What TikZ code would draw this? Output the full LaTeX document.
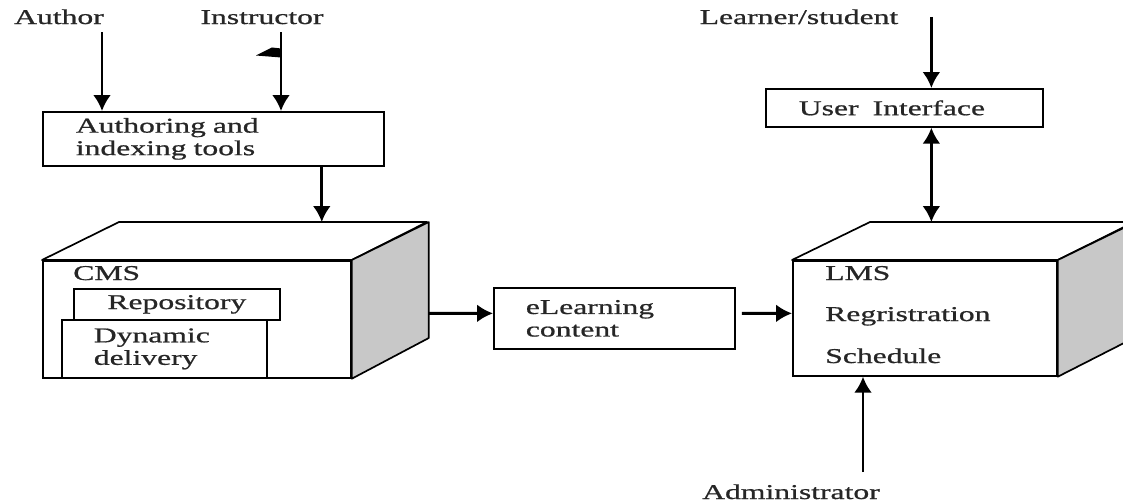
\documentclass[tikz,border=0pt]{standalone}
\usepackage{fontspec}
\setmainfont{Liberation Serif}[FakeStretch=1.5, FakeBold=0.8]
\usetikzlibrary{positioning, arrows.meta, calc}
\tikzstyle{plainbox} =[draw, line width=1.2pt, align=left, inner ysep=0pt, anchor=north west]
\tikzstyle{flow} =[-{Latex[length=4mm, width=4.5mm]}, line width=2pt]
\tikzstyle{face} =[draw, line width=1.2pt, line join=round]
\tikzstyle{tag} =[inner sep=0pt]
\definecolor{sideGray}{HTML}{C8C8C8}
\definecolor{inkGray}{HTML}{262626}

\begin{document}
\begin{tikzpicture}[x=0.025cm, y=-0.025cm, font=\fontsize{15}{16}\selectfont, text=inkGray]
\useasboundingbox (0,0) rectangle (1123,502);

\node (author) [tag, anchor=base] at (59,24) {Author};
\node (instructor) [tag, anchor=base] at (262,24) {Instructor};
\node (learner) [tag, anchor=base] at (799,24) {Learner/student};
\node (admin) [tag, anchor=base] at (791,499) {Administrator};

\node (atool) [plainbox, inner xsep=0.825cm, text width=6.875cm, minimum height=1.35cm] at (42,111) {Authoring and\\indexing tools};

\node (ui) [plainbox, inner xsep=0.825cm, text width=5.275cm, minimum height=0.95cm] at (765,88) {User~~Interface};

% CMS cube
\node (cms) [draw, line width=1.2pt, anchor=north west, minimum width=7.7cm, minimum height=2.925cm] at (42,260) {};
\draw[face, fill=white] (cms.north west) -- ++(77,-38) coordinate (cmsBack) -- ++(308,0) -- (cms.north east) -- cycle;
\draw[face, fill=sideGray] (cms.north east) -- ++(77,-38) -- ++(0,116) -- (cms.south east) -- cycle;
\node (cmsTitle) [tag, anchor=base west] at (73,280) {CMS};
\node (repo) [draw, line width=1.2pt, anchor=north west, inner sep=0pt, minimum width=5.15cm, minimum height=0.775cm] at (73,288) {Repository};
\node (dyn) [plainbox, fill=white, inner xsep=0.8cm, text width=3.525cm, minimum height=1.45cm] at (61,319) {Dynamic\\delivery};

\node (elearn) [plainbox, inner xsep=0.8cm, text width=4.425cm, minimum height=1.525cm] at (493,287) {eLearning\\content};

% LMS cube
\node (lms) [draw, line width=1.2pt, anchor=north west, minimum width=6.6cm, minimum height=2.875cm] at (792,260) {};
\draw[face, fill=white] (lms.north west) -- ++(78,-38) coordinate (lmsBack) -- ++(264,0) -- (lms.north east) -- cycle;
\draw[face, fill=sideGray] (lms.north east) -- ++(78,-38) -- ++(0,115) -- (lms.south east) -- cycle;
\node (lmsTitle) [tag, anchor=base west] at (825,280) {LMS};
\node (reg) [tag, anchor=base west] at (825,321) {Regristration};
\node (sched) [tag, anchor=base west] at (825,363) {Schedule};

%arrows
\coordinate (authorIn) at ($(atool.north west)+(60,0)$);
\draw[flow] ([yshift=-0.2cm]authorIn |- author.south) -- (authorIn);

\coordinate (instrIn) at ($(atool.north west)+(239,0)$);
\coordinate (instrOut) at ([yshift=-0.2cm]instrIn |- instructor.south);
\draw[flow] (instrOut) -- (instrIn);
\fill ($(instrOut)+(-25,23)$) -- ($(instrOut)+(-9,15)$) -- ($(instrOut)+(0,16)$) -- ($(instrOut)+(0,25)$) -- cycle;

\coordinate (atoolOut) at ($(atool.south east)+(-63,0)$);
\draw[flow] (atoolOut) -- (atoolOut |- cmsBack);

\draw[flow] ($(cms.east)+(77,-6)$) -- ($(elearn.west)+(0,-5)$);
\draw[flow] ($(elearn.east)+(6,-5)$) -- ($(lms.west)+(0,-5)$);

\coordinate (uiIn) at ($(ui.north)+(27,0)$);
\draw[flow] (learner.east -| uiIn) -- (uiIn);
\coordinate (uiOut) at ($(ui.south)+(27,0)$);
\draw[flow, {Latex[length=4mm, width=4.5mm]}-{Latex[length=4mm, width=4.5mm]}] (uiOut) -- (uiOut |- lmsBack);

\coordinate (lmsIn) at ($(lms.south west)+(71,0)$);
\draw[flow] ([yshift=0.3cm]admin.north -| lmsIn) -- (lmsIn);

\end{tikzpicture}
\end{document}
